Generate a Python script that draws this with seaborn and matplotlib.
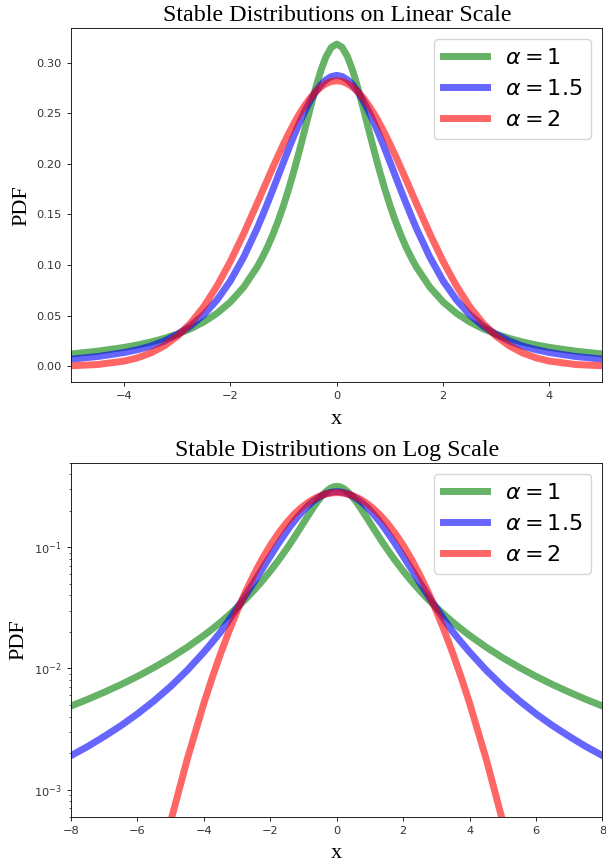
import matplotlib
matplotlib.use("Agg")
import matplotlib.pyplot as plt
import seaborn as sns
import pandas as pd

# ---- data ----
x_vals = [-8, -7.5, -7, -6.5, -6, -5.5, -5, -4.5, -4, -3.75, -3.5, -3.25, -3, -2.75,
          -2.5, -2.25, -2, -1.75, -1.5, -1.4, -1.3, -1.2, -1.1, -1.0, -0.9, -0.8, -0.7,
          -0.6, -0.5, -0.4, -0.3, -0.2, -0.1, 0.0, 0.1, 0.2, 0.3, 0.4, 0.5, 0.6, 0.7,
          0.8, 0.9, 1.0, 1.1, 1.2, 1.3, 1.4, 1.5, 1.75, 2, 2.25, 2.5, 2.75, 3, 3.25,
          3.5, 3.75, 4, 4.5, 5, 5.5, 6, 6.5, 7, 7.5, 8]

pdf_alpha_1 = [0.00490, 0.00556, 0.00637, 0.00736, 0.00860, 0.01019, 0.01224, 0.01498,
               0.01872, 0.02113, 0.02402, 0.02753, 0.03183, 0.03718, 0.04391, 0.05251,
               0.06366, 0.07835, 0.09794, 0.1075, 0.1183, 0.1305, 0.1440, 0.1592, 0.1759,
               0.1941, 0.2136, 0.2341, 0.2546, 0.2744, 0.2920, 0.3061, 0.3152, 0.3183,
               0.3152, 0.3061, 0.2920, 0.2744, 0.2546, 0.2341, 0.2136, 0.1941, 0.1759,
               0.1592, 0.1440, 0.1305, 0.1183, 0.1075, 0.09794, 0.07835, 0.06366, 0.05251,
               0.04391, 0.03718, 0.03183, 0.02753, 0.02402, 0.02113, 0.01872, 0.01498,
               0.01224, 0.01019, 0.00860, 0.00736, 0.00637, 0.00556, 0.00490]

pdf_alpha_15 = [0.00191, 0.00227, 0.00275, 0.00337, 0.00422, 0.00541, 0.00711, 0.00967,
                0.01365, 0.01644, 0.01995, 0.0249, 0.0315, 0.0400, 0.0511, 0.0658,
                0.0845, 0.1080, 0.1361, 0.1486, 0.1615, 0.1748, 0.1884, 0.2020, 0.2155,
                0.2285, 0.2408, 0.2521, 0.2623, 0.2710, 0.2780, 0.2831, 0.2863, 0.2874,
                0.2863, 0.2831, 0.2780, 0.2710, 0.2623, 0.2521, 0.2408, 0.2285, 0.2155,
                0.2020, 0.1884, 0.1748, 0.1615, 0.1486, 0.1361, 0.1080, 0.0845, 0.0658,
                0.0511, 0.0400, 0.0315, 0.0249, 0.01995, 0.01644, 0.01365, 0.00967,
                0.00711, 0.00541, 0.00422, 0.00337, 0.00275, 0.00227, 0.00191]

pdf_alpha_2 = [3.17e-8, 2.20e-7, 1.35e-6, 7.30e-6, 3.48e-5, 1.47e-4, 5.45e-4, 1.786e-3,
               5.17e-3, 8.39e-3, 0.01319, 0.0201, 0.0297, 0.0426, 0.0591, 0.0796,
               0.1038, 0.1312, 0.1607, 0.1728, 0.1849, 0.1968, 0.2085, 0.2197, 0.2304,
               0.2404, 0.2496, 0.2578, 0.2650, 0.2710, 0.2758, 0.2793, 0.2814, 0.2821,
               0.2814, 0.2793, 0.2758, 0.2710, 0.2650, 0.2578, 0.2496, 0.2404, 0.2304,
               0.2197, 0.2085, 0.1968, 0.1849, 0.1728, 0.1607, 0.1312, 0.1038, 0.0796,
               0.0591, 0.0426, 0.0297, 0.0201, 0.01319, 8.39e-3, 5.17e-3, 1.786e-3,
               5.45e-4, 1.47e-4, 3.48e-5, 7.30e-6, 1.35e-6, 2.20e-7, 3.17e-8]

series_labels = [r'$\alpha=1$', r'$\alpha=1.5$', r'$\alpha=2$']
series_colors = ['g', 'b', 'r']
titles = ['Stable Distributions on Linear Scale', 'Stable Distributions on Log Scale']

df = pd.DataFrame({'x': x_vals, 'a1': pdf_alpha_1, 'a15': pdf_alpha_15, 'a2': pdf_alpha_2})

serif = ['Liberation Serif', 'DejaVu Serif']

fig, axes = plt.subplots(2, 1, figsize=(6.06, 8.64), dpi=100)
fig.subplots_adjust(left=0.1172, right=0.9942, top=0.9676, bottom=0.0544, hspace=0.226)

for i, ax in enumerate(axes):
    for col, lab, c in zip(['a1', 'a15', 'a2'], series_labels, series_colors):
        sns.lineplot(data=df, x='x', y=col, ax=ax, color=c, lw=5, alpha=0.6, label=lab)
    ax.set_title(titles[i], fontfamily=serif, fontsize=17.3, pad=4.8)
    ax.set_xlabel('x', fontfamily=serif, fontsize=16, labelpad=6)
    ax.set_ylabel('PDF', fontfamily=serif, fontsize=16)
    ax.tick_params(labelsize=8.2, length=3, width=0.6, labelcolor='#333333')
    ax.tick_params(which='minor', length=1.8, width=0.45)
    for s in ax.spines.values():
        s.set_linewidth(0.6)
    ax.legend(loc='upper right', fontsize=16)

axes[0].set_xlim(-5, 5)
axes[0].set_ylim(-0.0159, 0.3342)
axes[0].set_xticks([-4, -2, 0, 2, 4])
axes[0].set_yticks([0.0, 0.05, 0.10, 0.15, 0.20, 0.25, 0.30])

axes[1].set_yscale('log')
axes[1].set_xlim(-8, 8)
axes[1].set_ylim(5.95e-4, 0.5)
axes[1].set_xticks([-8, -6, -4, -2, 0, 2, 4, 6, 8])

fig.savefig('out.png', dpi=100)
